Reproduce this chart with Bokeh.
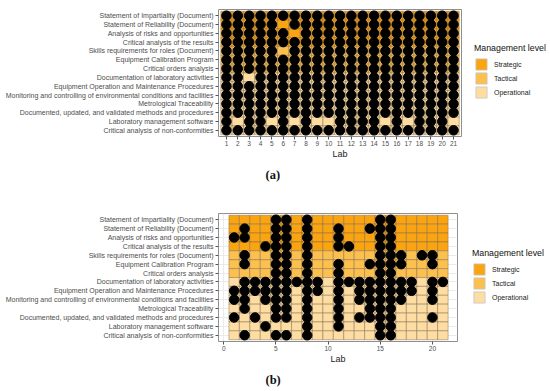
from bokeh.plotting import figure
from bokeh.layouts import column, row
from bokeh.models import FactorRange, Range1d, Legend, LegendItem, Title, FixedTicker, ColumnDataSource
from bokeh.embed import file_html
from bokeh.resources import INLINE

# ---------------- data ----------------
categories = [
    "Statement of Impartiality (Document)",
    "Statement of Reliability (Document)",
    "Analysis of risks and opportunities",
    "Critical analysis of the results",
    "Skills requirements for roles (Document)",
    "Equipment Calibration Program",
    "Critical orders analysis",
    "Documentation of laboratory activities",
    "Equipment Operation and Maintenance Procedures",
    "Monitoring and controlling of environmental conditions and facilities",
    "Metrological Traceability",
    "Documented, updated, and validated methods and procedures",
    "Laboratory management software",
    "Critical analysis of non-conformities",
]
category_level = ["Strategic"] * 4 + ["Tactical"] * 3 + ["Operational"] * 7
level_names = ["Strategic", "Tactical", "Operational"]
labs = list(range(1, 22))

# panel (a): 1 = element present (dot) for labs 1..21
panel_a_rows = [
    "111111111111111111111",
    "111110111111111111111",
    "111111011111111111111",
    "111111111111111111111",
    "111110111111111111111",
    "111111111111111111111",
    "111111111111111111111",
    "110111111111111111111",
    "111111111111111111111",
    "111111111111111111111",
    "111111111111111111111",
    "111111111111111111111",
    "101101010011110101110",
    "111111111111111111111",
]

# panel (b): labs with a dot, per category
panel_b_labs = [
    [5, 6, 8, 15, 16],
    [2, 5, 6, 8, 11, 14, 15, 16],
    [1, 2, 5, 6, 8, 11, 15, 16],
    [4, 5, 6, 8, 11, 12, 15, 16],
    [2, 5, 6, 8, 15, 16, 17, 19, 20],
    [2, 5, 6, 8, 11, 14, 15, 16, 17, 20],
    [5, 6, 8, 11, 15, 16],
    [2, 3, 4, 5, 6, 7, 8, 9, 11, 12, 13, 14, 15, 16, 17, 18, 20, 21],
    [1, 2, 3, 4, 5, 6, 8, 9, 11, 13, 14, 15, 16, 17, 18, 20],
    [1, 2, 4, 5, 6, 8, 11, 13, 14, 15, 16, 17, 20],
    [2, 5, 6, 8, 11, 14, 15, 16],
    [1, 3, 5, 6, 8, 11, 13, 14, 15, 16, 20],
    [4, 8, 11, 15, 16],
    [2, 5, 6, 8, 15, 16],
]
b_ticks = [0, 5, 10, 15, 20]

# ---------------- style ----------------
level_colors = {"Strategic": "#FBA412", "Tactical": "#FCC04E", "Operational": "#FEDDA2"}
TILE_LINE = "#7a6650"
FONT = "Liberation Sans"
PLOT_W = 466
LEG_W = 550 - PLOT_W


def make_panel(kind, height, border_top, border_bottom, border_right, caption):
    yr = FactorRange(factors=list(reversed(categories)), range_padding=0.2,
                     range_padding_units="absolute")
    if kind == "a":
        xr = FactorRange(factors=[str(l) for l in labs], range_padding=0.2,
                         range_padding_units="absolute")
    else:
        xr = Range1d(-0.5, 22.4)
    p = figure(width=PLOT_W, height=height, x_range=xr, y_range=yr,
               output_backend="svg", toolbar_location=None,
               min_border_left=218, min_border_right=border_right,
               min_border_top=border_top, min_border_bottom=border_bottom)
    p.outline_line_color = "#8f8f8f"
    p.outline_line_width = 1

    for lvl in level_names:
        xs, ys = [], []
        for cat, cl in zip(categories, category_level):
            if cl != lvl:
                continue
            for l in labs:
                xs.append(str(l) if kind == "a" else l)
                ys.append(cat)
        src = ColumnDataSource(dict(x=xs, y=ys))
        p.rect(x="x", y="y", width=1, height=1, source=src,
               fill_color=level_colors[lvl], line_color=TILE_LINE,
               line_alpha=0.75, line_width=0.6)

    dx, dy = [], []
    for i, cat in enumerate(categories):
        if kind == "a":
            present = [l for l, c in zip(labs, panel_a_rows[i]) if c == "1"]
            dx += [str(l) for l in present]
        else:
            present = panel_b_labs[i]
            dx += present
        dy += [cat] * len(present)
    p.scatter(x=dx, y=dy, size=9.5, fill_color="black", line_color="black")

    # axes
    p.yaxis.major_label_text_font = FONT
    p.yaxis.major_label_text_font_size = "7px"
    p.yaxis.major_label_text_color = "#4d4d4d"
    p.yaxis.major_label_standoff = 2
    p.yaxis.major_tick_out = 3
    p.yaxis.major_tick_in = 0
    p.yaxis.major_tick_line_color = "#555555"
    p.yaxis.axis_line_color = None
    p.yaxis.minor_tick_line_color = None

    p.xaxis.axis_label = "Lab"
    p.xaxis.axis_label_text_font = FONT
    p.xaxis.axis_label_text_font_style = "normal"
    p.xaxis.axis_label_text_font_size = "9px"
    p.xaxis.axis_label_text_color = "#222222"
    p.xaxis.axis_label_standoff = 0
    p.xaxis.major_label_text_font = FONT
    p.xaxis.major_label_text_font_size = "6.5px"
    p.xaxis.major_label_text_color = "#4d4d4d"
    p.xaxis.major_label_standoff = 1
    p.xaxis.major_tick_out = 3
    p.xaxis.major_tick_in = 0
    p.xaxis.major_tick_line_color = "#555555"
    p.xaxis.axis_line_color = None
    p.xaxis.minor_tick_line_color = None
    if kind == "b":
        p.xaxis.ticker = FixedTicker(ticks=b_ticks)
        p.xgrid.ticker = FixedTicker(ticks=b_ticks)
        p.xgrid.grid_line_color = "#ebebeb"
        p.ygrid.grid_line_color = "#ebebeb"
    else:
        p.xgrid.grid_line_color = None
        p.ygrid.grid_line_color = None

    t_kwargs = dict(text=caption, align="left", offset=47,
                    text_font="Liberation Serif", text_font_style="bold",
                    text_font_size="12.5px", text_color="#111111")
    if "standoff" in Title.properties():
        t_kwargs["standoff"] = 8
    p.add_layout(Title(**t_kwargs), "below")
    return p


def make_legend(height, loc):
    lp = figure(width=LEG_W, height=height, x_range=Range1d(0, 1), y_range=Range1d(0, 1),
                x_axis_type=None, y_axis_type=None, output_backend="svg",
                toolbar_location=None, min_border=0)
    lp.outline_line_color = None
    lp.grid.grid_line_color = None
    items = []
    for lvl in level_names:
        # zero-size swatch renderer: only feeds the legend key
        r = lp.rect(x=[0.5], y=[0.5], width=0, height=0,
                    fill_color=level_colors[lvl], line_color="#c8c8c8", line_width=0.8)
        items.append(LegendItem(label=lvl, renderers=[r]))
    legend = Legend(
        items=items, location=loc, title="Management level",
        title_text_font=FONT, title_text_font_size="8.8px", title_text_font_style="normal",
        title_text_color="#111111", title_standoff=4,
        label_text_font=FONT, label_text_font_size="7px", label_text_color="#222222",
        glyph_width=14, glyph_height=14, label_height=14, label_standoff=6,
        spacing=0, padding=0, margin=0,
        border_line_color=None, background_fill_alpha=0,
    )
    lp.add_layout(legend)
    return lp


pa = make_panel("a", 192, 9, 56, PLOT_W - 461, "(a)")
la = make_legend(192, (8, 37))
pb = make_panel("b", 199, 21, 50, PLOT_W - 457, "(b)")
lb = make_legend(199, (6, 37))

layout = column(row(pa, la, spacing=0), row(pb, lb, spacing=0), spacing=0)
open("out.html", "w").write(file_html(layout, INLINE))
